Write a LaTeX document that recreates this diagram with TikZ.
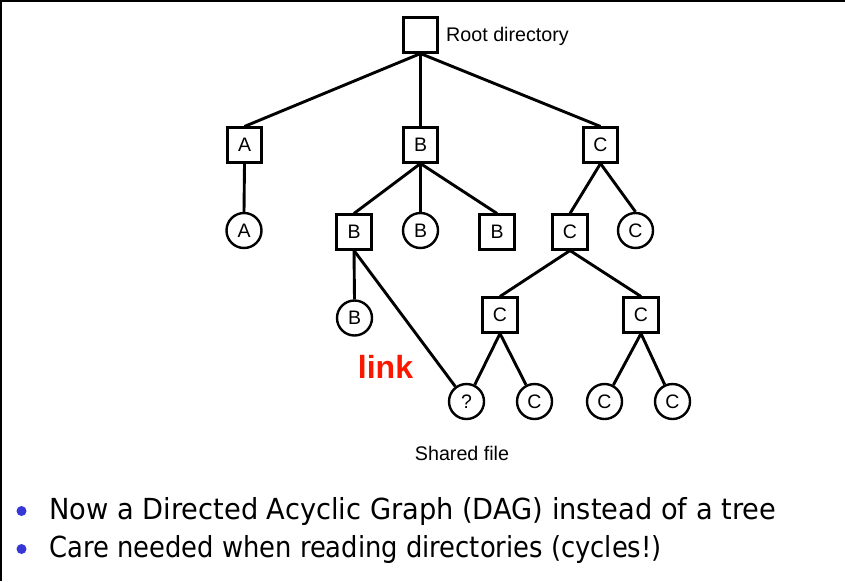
\documentclass[tikz,border=0pt]{standalone}
\usepackage{fontspec}
\setmainfont{Liberation Sans}
\newfontfamily\bulletfont[FakeStretch=0.94]{DejaVu Sans}
\newfontfamily\bulletfontb[FakeStretch=0.89]{DejaVu Sans}
\definecolor{linkred}{RGB}{250,25,0}
\definecolor{bulletblue}{RGB}{55,55,215}
\begin{document}
\begin{tikzpicture}[x=1pt,y=-1pt,
  sq/.style={draw,line width=2.6pt,minimum size=34.5pt,inner sep=0pt,font=\fontsize{19.5}{20}\selectfont},
  circ/.style={draw,circle,line width=2.4pt,minimum size=35pt,inner sep=0pt,font=\fontsize{19.5}{20}\selectfont},
  edge/.style={line width=2.9pt},
  lbl/.style={inner sep=0pt,font=\fontsize{19.7}{22}\selectfont},
  btext/.style={inner sep=0pt,anchor=west,font=\bulletfont\fontsize{29}{32}\selectfont},
  btextb/.style={inner sep=0pt,anchor=west,font=\bulletfontb\fontsize{29}{32}\selectfont},
  bdot/.style={circle,fill=bulletblue,inner sep=0pt,minimum size=10pt}]
\useasboundingbox (0,0) rectangle (845,581);
\fill[white] (0,0) rectangle (845,581);
\draw[line width=2.2pt] (0,1.1) -- (845,1.1);
\draw[line width=2.2pt] (1.1,0) -- (1.1,581);
% nodes
\node[sq] (root) at (420.5,35) {};
\node[lbl,anchor=west] (rootlbl) at (446,36) {Root directory};
\node[sq] (A) at (244.5,145) {A};
\node[sq] (B) at (420.5,145) {B};
\node[sq] (C) at (600.5,145) {C};
\node[circ] (a1) at (244,230.5) {A};
\node[sq] (B2) at (354,232) {B};
\node[circ] (b1) at (420.5,230.5) {B};
\node[sq] (B3) at (497,232) {B};
\node[sq] (C2) at (570,232) {C};
\node[circ] (c1) at (635.5,230.5) {C};
\node[circ] (b2) at (354.5,318) {B};
\node[sq] (C3) at (500,315) {C};
\node[sq] (C4) at (641,315) {C};
\node[circ] (q) at (466.5,401.5) {?};
\node[circ] (c2) at (534.5,401.5) {C};
\node[circ] (c3) at (604.5,401.5) {C};
\node[circ] (c4) at (672.5,401.5) {C};
\node[inner sep=0pt,text=linkred,font=\bfseries\fontsize{32}{34}\selectfont] (link) at (385.5,367) {link};
\node[lbl] (shared) at (462,453) {Shared file};
% edges
\draw[edge] (root.south) -- (A.north);
\draw[edge] (root.south) -- (B.north);
\draw[edge] (root.south) -- (C.north);
\draw[edge] (A.south) -- (a1.north);
\draw[edge] (B.south) -- (B2.north);
\draw[edge] (B.south) -- (b1.north);
\draw[edge] (B.south) -- (B3.north);
\draw[edge] (C.south) -- (C2.north);
\draw[edge] (C.south) -- (c1.north);
\draw[edge] (B2.south) -- (b2.north);
\draw[edge] (B2.south) -- (q);
\draw[edge] (C2.south) -- (C3.north);
\draw[edge] (C2.south) -- (C4.north);
\draw[edge] (C3.south) -- (q);
\draw[edge] (C3.south) -- (c2);
\draw[edge] (C4.south) -- (c3);
\draw[edge] (C4.south) -- (c4);
% bullets
\node[bdot] (d1) at (21.5,511) {};
\node[bdot] (d2) at (21.5,549) {};
\node[btext] (t1) at (49,511) {Now a Directed Acyclic Graph (DAG) instead of a tree};
\node[btextb] (t2) at (49,549) {Care needed when reading directories (cycles!)};
\end{tikzpicture}
\end{document}
